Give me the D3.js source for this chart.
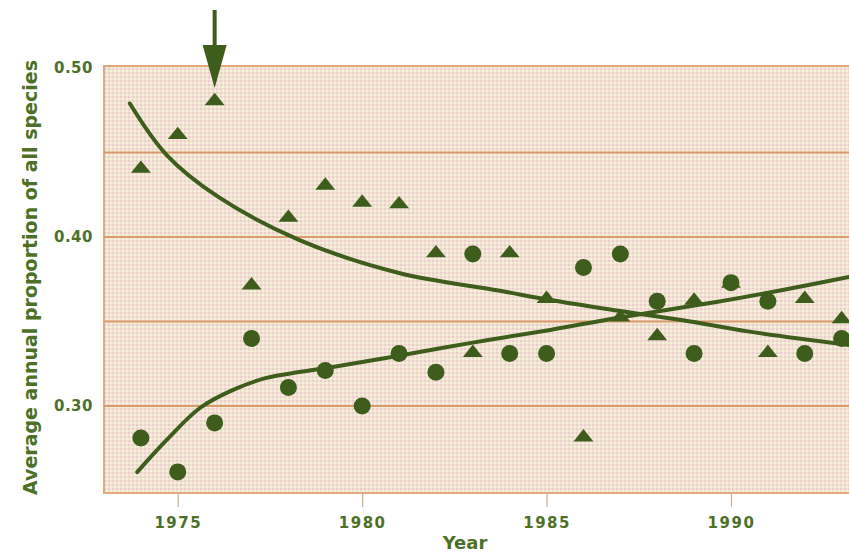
<!DOCTYPE html>
<html>
<head>
<meta charset="utf-8">
<script src="https://cdn.jsdelivr.net/npm/d3@7"></script>
<style>
  body { margin: 0; background: #fff; }
  svg { display: block; }
</style>
</head>
<body>
<div id="chart"></div>
<script>
const width = 849;
const height = 552;

// data
const years = [1974, 1975, 1976, 1977, 1978, 1979, 1980, 1981, 1982, 1983,
               1984, 1985, 1986, 1987, 1988, 1989, 1990, 1991, 1992, 1993];
const triangles = [0.441, 0.461, 0.481, 0.372, 0.412, 0.431, 0.421, 0.420, 0.391, 0.332,
                   0.391, 0.364, 0.282, 0.353, 0.342, 0.363, 0.373, 0.332, 0.364, 0.352];
const circles = [0.281, 0.261, 0.290, 0.340, 0.311, 0.321, 0.300, 0.331, 0.320, 0.390,
                 0.331, 0.331, 0.382, 0.390, 0.362, 0.331, 0.373, 0.362, 0.331, 0.340];

// fitted curves
const fallYears = [1973.7, 1974.7, 1976.1, 1978.3, 1981.0, 1983.7, 1985.1, 1986.9, 1988.7, 1990.5, 1993.2];
const fallValues = [0.479, 0.4485, 0.4237, 0.3982, 0.3787, 0.3683, 0.3627, 0.3565, 0.3507, 0.3440, 0.3361];
const riseYears = [1973.9, 1974.7, 1975.6, 1976.5, 1977.4, 1978.3, 1979.2, 1980.8, 1983.0, 1985.1, 1986.9, 1989.6, 1991.4, 1993.2];
const riseValues = [0.2609, 0.2799, 0.2988, 0.3095, 0.3166, 0.3201, 0.3231, 0.3290, 0.3375, 0.3450, 0.3521, 0.3615, 0.3686, 0.3763];

const xTicks = [1975, 1980, 1985, 1990];
const yLabels = [0.50, 0.40, 0.30];
const yGrid = [0.45, 0.40, 0.35, 0.30];
const arrowYear = 1976;

const plotLeft = 104, plotRight = 849, plotTop = 66, plotBottom = 493;
const green = "#3e5c1c";
const textGreen = "#4e7026";

const x = d3.scaleLinear().domain([1973, 1993.2]).range([plotLeft, plotRight]);
const y = d3.scaleLinear().domain([0.2485, 0.5012]).range([plotBottom, plotTop]);

const svg = d3.select("#chart").append("svg")
    .attr("width", width)
    .attr("height", height);

const defs = svg.append("defs");
const pat = defs.append("pattern")
    .attr("id", "dots")
    .attr("width", 4).attr("height", 4)
    .attr("patternUnits", "userSpaceOnUse");
pat.append("rect").attr("width", 4).attr("height", 4).attr("fill", "#f0e2d8");
pat.append("rect").attr("x", 0).attr("y", 0).attr("width", 2).attr("height", 2).attr("fill", "#edcfca");
pat.append("rect").attr("x", 2).attr("y", 2).attr("width", 2).attr("height", 2).attr("fill", "#f7f2d4");

defs.append("clipPath").attr("id", "plotclip")
  .append("rect")
    .attr("x", plotLeft).attr("y", plotTop)
    .attr("width", plotRight - plotLeft).attr("height", plotBottom - plotTop);

// plot background
svg.append("rect")
    .attr("x", plotLeft).attr("y", plotTop)
    .attr("width", plotRight - plotLeft + 2).attr("height", plotBottom - plotTop)
    .attr("fill", "url(#dots)")
    .attr("stroke", "#e2a97c")
    .attr("stroke-width", 2);

// horizontal grid lines
svg.selectAll(".grid")
  .data(yGrid)
  .enter().append("line")
    .attr("class", "grid")
    .attr("x1", plotLeft).attr("x2", plotRight)
    .attr("y1", d => y(d)).attr("y2", d => y(d))
    .attr("stroke", "#d99a6c")
    .attr("stroke-width", 2);

// x axis
const xAxis = svg.append("g")
    .attr("transform", "translate(0," + plotBottom + ")")
    .call(d3.axisBottom(x).tickValues(xTicks).tickFormat(d3.format("d")).tickSize(14).tickPadding(10));
xAxis.select(".domain").remove();
xAxis.selectAll(".tick line").attr("stroke", "#cfae8a").attr("stroke-width", 1.2);
xAxis.selectAll(".tick text")
    .attr("fill", textGreen)
    .style("font-family", "'DejaVu Sans', sans-serif")
    .style("font-weight", "bold")
    .style("font-size", "15px")
    .style("letter-spacing", "1.5px");

// y labels
svg.selectAll(".ylab")
  .data(yLabels)
  .enter().append("text")
    .attr("class", "ylab")
    .attr("x", 93)
    .attr("y", d => y(d) + 5)
    .attr("text-anchor", "end")
    .attr("fill", textGreen)
    .style("font-family", "'DejaVu Sans', sans-serif")
    .style("font-weight", "bold")
    .style("font-size", "15px")
    .style("letter-spacing", "0.5px")
    .text(d => d3.format(".2f")(d));

// axis titles
svg.append("text")
    .attr("x", 465).attr("y", 549)
    .attr("text-anchor", "middle")
    .attr("fill", textGreen)
    .style("font-family", "'DejaVu Sans', sans-serif")
    .style("font-weight", "bold")
    .style("font-size", "18px")
    .text("Year");

svg.append("text")
    .attr("transform", "translate(37," + ((plotTop + plotBottom) / 2 - 2) + ") rotate(-90)")
    .attr("text-anchor", "middle")
    .attr("fill", textGreen)
    .style("font-family", "'DejaVu Sans', sans-serif")
    .style("font-weight", "bold")
    .style("font-size", "19px")
    .text("Average annual proportion of all species");

// fitted curves
const plot = svg.append("g").attr("clip-path", "url(#plotclip)");
const line = d3.line()
    .x(d => x(d[0]))
    .y(d => y(d[1]))
    .curve(d3.curveCatmullRom.alpha(0.5));

plot.append("path")
    .datum(d3.zip(fallYears, fallValues))
    .attr("d", line)
    .attr("fill", "none")
    .attr("stroke", green)
    .attr("stroke-width", 4)
    .attr("stroke-linecap", "round");

plot.append("path")
    .datum(d3.zip(riseYears, riseValues))
    .attr("d", line)
    .attr("fill", "none")
    .attr("stroke", green)
    .attr("stroke-width", 4)
    .attr("stroke-linecap", "round");

// points
const tri = d3.symbol().type(d3.symbolTriangle).size(110);
plot.selectAll(".tri")
  .data(d3.zip(years, triangles))
  .enter().append("path")
    .attr("class", "tri")
    .attr("d", tri)
    .attr("transform", d => "translate(" + x(d[0]) + "," + (y(d[1]) + 1) + ") scale(1.25,0.9)")
    .attr("fill", green);

plot.selectAll(".dot")
  .data(d3.zip(years, circles))
  .enter().append("circle")
    .attr("class", "dot")
    .attr("cx", d => x(d[0]))
    .attr("cy", d => y(d[1]))
    .attr("r", 8.5)
    .attr("fill", green);

// arrow pointing at the 1976 peak
const ax = x(arrowYear);
svg.append("rect")
    .attr("x", ax - 2).attr("y", 10)
    .attr("width", 4).attr("height", 38)
    .attr("fill", green);
svg.append("path")
    .attr("d", "M" + (ax - 12) + ",45 L" + (ax + 12) + ",45 L" + ax + ",88 Z")
    .attr("fill", green);
</script>
</body>
</html>
